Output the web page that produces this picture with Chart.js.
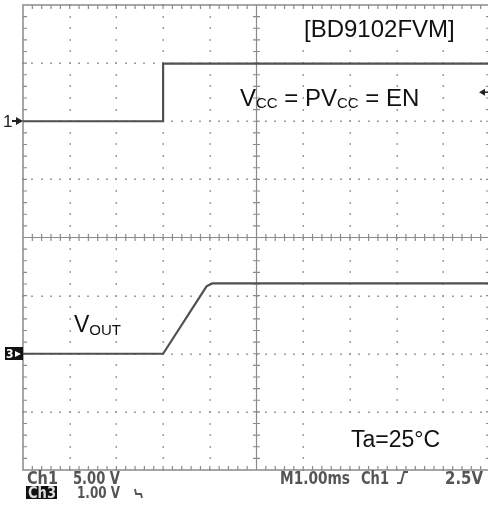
<!DOCTYPE html>
<html lang="en">
<head>
<meta charset="UTF-8">
<title>BD9102FVM start-up waveform</title>
<script src="https://cdn.jsdelivr.net/npm/chart.js@4.4.0/dist/chart.umd.min.js"></script>
<style>
  html, body { margin: 0; padding: 0; background: #fff; overflow: hidden; }
  #wrap { width: 492px; height: 506px; }
</style>
</head>
<body>
<div id="wrap"><canvas id="scope" width="492" height="506"></canvas></div>
<script>
// time base: 1.00 ms/div, 10 divisions across
const timeMin = 0, timeMax = 10;
const divsHigh = 4; // 8 vertical divisions, +-4 around centre

// Ch1 = VCC = PVCC = EN, 5.00 V/div, ground marker 2 div above centre
const ch1Scale = 5.0, ch1Pos = 2;
const ch1Time = [0, 3.0, 3.0, 10];
const ch1Volts = [0, 0, 4.95, 4.95];

// Ch3 = VOUT, 1.00 V/div, ground marker 2 div below centre
const ch3Scale = 1.0, ch3Pos = -2;
const ch3Time = [0, 3.0, 3.93, 4.05, 10];
const ch3Volts = [0, 0, 1.16, 1.21, 1.21];

// trigger on Ch1 rising edge
const trigLevel = 2.5;

// readout lines under the screen
const readoutLeft = [['Ch1', '5.00 V'], ['Ch3', '1.00 V']];
const readoutRight = ['M1.00ms', 'Ch1', '2.5V'];

const toPoints = (xs, ys) => xs.map((t, i) => ({ x: t, y: ys[i] }));

const traceColor = '#505050';
const gridColor = '#9c9c9c';
const frameColor = '#8a8a8a';

// oscilloscope graticule: dotted divisions, ticked frame and centre cross
const graticule = {
  id: 'graticule',
  beforeDatasetsDraw(chart) {
    const { ctx, chartArea: a, scales } = chart;
    const x = scales.x, y = scales.y1;
    const px = d => x.getPixelForValue(d);
    const py = d => y.getPixelForValue((d - ch1Pos) * ch1Scale);
    ctx.save();
    ctx.fillStyle = gridColor;
    // dotted division lines
    for (let i = 1; i < 10; i++) {
      if (i === 5) continue;
      for (let j = 0; j <= 40; j++) {
        ctx.fillRect(Math.round(px(i)) - 0.5, Math.round(py(-4 + j * 0.2)) - 1, 1.5, 2);
      }
    }
    for (let i = -3; i <= 3; i++) {
      if (i === 0) continue;
      for (let j = 0; j <= 50; j++) {
        ctx.fillRect(Math.round(px(j * 0.2)) - 1, Math.round(py(i)) - 0.5, 2, 1.5);
      }
    }
    // frame and centre cross
    ctx.strokeStyle = frameColor;
    ctx.lineWidth = 1.5;
    ctx.strokeRect(a.left, a.top, a.right - a.left, a.bottom - a.top);
    ctx.lineWidth = 1.2;
    ctx.beginPath();
    ctx.moveTo(px(5), a.top); ctx.lineTo(px(5), a.bottom);
    ctx.moveTo(a.left, py(0)); ctx.lineTo(a.right, py(0));
    // minor ticks every 0.2 div
    for (let j = 1; j < 50; j++) {
      const xx = px(j * 0.2);
      ctx.moveTo(xx, a.top); ctx.lineTo(xx, a.top + 4);
      ctx.moveTo(xx, a.bottom); ctx.lineTo(xx, a.bottom - 4);
      ctx.moveTo(xx, py(0) - 3.5); ctx.lineTo(xx, py(0) + 3.5);
    }
    for (let j = 1; j < 40; j++) {
      const yy = py(-4 + j * 0.2);
      ctx.moveTo(a.left, yy); ctx.lineTo(a.left + 4, yy);
      ctx.moveTo(a.right, yy); ctx.lineTo(a.right - 4, yy);
      ctx.moveTo(px(5) - 3.5, yy); ctx.lineTo(px(5) + 3.5, yy);
    }
    ctx.stroke();
    // white patches behind the pasted labels
    ctx.fillStyle = '#fff';
    ctx.fillRect(268, 9, 214, 40);
    ctx.fillRect(311, 423, 173, 39);
    ctx.restore();
  },
  afterDraw(chart) {
    const { ctx, scales } = chart;
    const y1 = scales.y1, y3 = scales.y3;
    ctx.save();
    ctx.fillStyle = '#111';
    ctx.textBaseline = 'alphabetic';
    const sans = '"Liberation Sans", Arial, sans-serif';
    // text with subscripts: [text, isSub]
    const runs = (parts, x0, base, size, subSize, subDrop) => {
      let x = x0;
      parts.forEach(([t, sub]) => {
        ctx.font = (sub ? subSize : size) + 'px ' + sans;
        ctx.fillText(t, x, base + (sub ? subDrop : 0));
        x += ctx.measureText(t).width;
      });
    };
    ctx.font = '24px ' + sans;
    ctx.fillText('[BD9102FVM]', 304, 37);
    runs([['V'], ['CC', 1], [' = PV'], ['CC', 1], [' = EN']], 240, 106, 24, 15, 2);
    runs([['V'], ['OUT', 1]], 74, 332, 23, 15, 3);
    ctx.font = '23px ' + sans;
    ctx.fillText('Ta=25\u00B0C', 351, 447);

    // channel ground markers
    const g1 = Math.round(y1.getPixelForValue(0));
    ctx.fillStyle = '#222';
    ctx.font = '17px ' + sans;
    ctx.fillText('1', 3, g1 + 6);
    ctx.beginPath();
    ctx.moveTo(16, g1 - 4); ctx.lineTo(23, g1); ctx.lineTo(16, g1 + 4); ctx.closePath();
    ctx.fill();
    ctx.fillRect(12, g1 - 1, 5, 2);

    const g3 = Math.round(y3.getPixelForValue(0));
    ctx.fillStyle = '#111';
    ctx.fillRect(5, g3 - 7, 18, 13);
    ctx.fillStyle = '#fff';
    ctx.font = 'bold 12px "DejaVu Sans Condensed", sans-serif';
    ctx.fillText('3', 6, g3 + 4);
    ctx.beginPath();
    ctx.moveTo(15, g3 - 3); ctx.lineTo(21, g3); ctx.lineTo(15, g3 + 3); ctx.closePath();
    ctx.fill();

    // trigger level marker on the right edge
    const gt = y1.getPixelForValue(trigLevel);
    ctx.fillStyle = '#222';
    ctx.beginPath();
    ctx.moveTo(479, gt); ctx.lineTo(485, gt - 3.5); ctx.lineTo(485, gt + 3.5); ctx.closePath();
    ctx.fill();
    ctx.fillRect(484, gt - 0.75, 4, 1.5);

    // scope readout
    const cond = '"DejaVu Sans Condensed", sans-serif';
    ctx.font = 'bold 17px ' + cond;
    ctx.fillStyle = '#555';
    ctx.fillText(readoutLeft[0][0], 27, 484, 31);
    ctx.fillText(readoutLeft[0][1], 73, 484, 47);
    ctx.fillText(readoutRight[0], 280, 484, 70);
    ctx.fillText(readoutRight[1], 361, 484, 28);
    ctx.fillText(readoutRight[2], 445, 484, 38);
    ctx.font = 'bold 15px ' + cond;
    ctx.fillStyle = '#111';
    ctx.fillRect(26, 486, 31, 13);
    ctx.fillStyle = '#ddd';
    ctx.fillText(readoutLeft[1][0], 28, 498, 28);
    ctx.fillStyle = '#555';
    ctx.fillText(readoutLeft[1][1], 77, 498, 43);
    // bandwidth-limit and rising-edge glyphs
    ctx.strokeStyle = '#555';
    ctx.lineWidth = 1.8;
    ctx.beginPath();
    ctx.moveTo(135, 489); ctx.lineTo(136, 494); ctx.lineTo(141, 494); ctx.lineTo(142, 498);
    ctx.moveTo(397, 483); ctx.lineTo(401, 483); ctx.lineTo(404, 472); ctx.lineTo(408, 472);
    ctx.stroke();
    ctx.restore();
  }
};

new Chart(document.getElementById('scope'), {
  type: 'line',
  data: {
    datasets: [
      {
        label: 'VCC = PVCC = EN',
        data: toPoints(ch1Time, ch1Volts),
        yAxisID: 'y1',
        borderColor: traceColor,
        borderWidth: 2.2,
        pointRadius: 0,
        tension: 0
      },
      {
        label: 'VOUT',
        data: toPoints(ch3Time, ch3Volts),
        yAxisID: 'y3',
        borderColor: traceColor,
        borderWidth: 2.2,
        pointRadius: 0,
        tension: 0
      }
    ]
  },
  options: {
    responsive: false,
    animation: false,
    layout: { padding: { left: 23, top: 5, right: 2, bottom: 36 } },
    plugins: { legend: { display: false }, tooltip: { enabled: false } },
    scales: {
      x: { type: 'linear', min: timeMin, max: timeMax, display: false },
      y1: {
        type: 'linear', display: false,
        min: (-divsHigh - ch1Pos) * ch1Scale, max: (divsHigh - ch1Pos) * ch1Scale
      },
      y3: {
        type: 'linear', display: false,
        min: (-divsHigh - ch3Pos) * ch3Scale, max: (divsHigh - ch3Pos) * ch3Scale
      }
    }
  },
  plugins: [graticule]
});
</script>
</body>
</html>
